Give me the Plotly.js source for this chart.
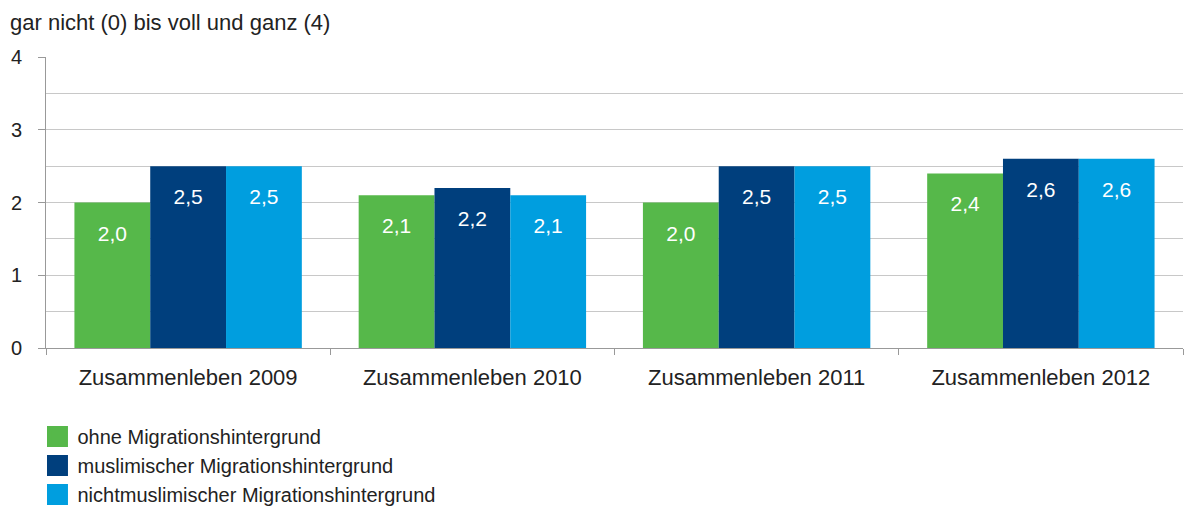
<!DOCTYPE html>
<html>
<head>
<meta charset="utf-8">
<script src="https://cdn.plot.ly/plotly-3.0.1.min.js"></script>
<style>html,body{margin:0;padding:0;background:#fff;}#chart{width:1185px;height:510px;}</style>
</head>
<body>
<div id="chart"></div>
<script>
var categories = ['Zusammenleben 2009', 'Zusammenleben 2010', 'Zusammenleben 2011', 'Zusammenleben 2012'];
var seriesNames = ['ohne Migrationshintergrund', 'muslimischer Migrationshintergrund', 'nichtmuslimischer Migrationshintergrund'];
var ohne = [2.0, 2.1, 2.0, 2.4];
var muslimisch = [2.5, 2.2, 2.5, 2.6];
var nichtmuslimisch = [2.5, 2.1, 2.5, 2.6];
var yTickVals = [0, 1, 2, 3, 4];
var yTitle = 'gar nicht (0) bis voll und ganz (4)';

var colors = ['#56B84A', '#003F7D', '#009EDF'];
var values = [ohne, muslimisch, nichtmuslimisch];
var FONT = 'Liberation Sans, Arial, sans-serif';
var TXT = '#222222';

function fmt(v) { return v.toFixed(1).replace('.', ','); }

var traces = [];
values.forEach(function (vals, i) {
  traces.push({
    type: 'bar', x: categories, y: vals, name: seriesNames[i],
    marker: { color: colors[i] }, showlegend: false, hoverinfo: 'skip',
    offsetgroup: 'g' + i
  });
});
values.forEach(function (vals, i) {
  traces.push({
    type: 'scatter', mode: 'markers+text', x: categories, y: vals,
    text: vals.map(fmt), textposition: 'bottom center',
    textfont: { family: FONT, size: 21, color: '#ffffff' },
    marker: { size: 34, color: 'rgba(0,0,0,0)' },
    showlegend: false, hoverinfo: 'skip', offsetgroup: 'g' + i
  });
});
values.forEach(function (vals, i) {
  traces.push({
    type: 'scatter', mode: 'markers', x: [null], y: [null], name: seriesNames[i],
    xaxis: 'x2', yaxis: 'y2',
    marker: { symbol: 'square', size: 16, color: colors[i], line: { width: 5, color: colors[i] } },
    showlegend: true, hoverinfo: 'skip'
  });
});

var layout = {
  width: 1185, height: 510,
  paper_bgcolor: '#ffffff', plot_bgcolor: '#ffffff',
  margin: { l: 46, r: 2, t: 57, b: 162 },
  font: { family: FONT, size: 20, color: TXT },
  barmode: 'group', bargap: 0.2, bargroupgap: 0,
  scattermode: 'group', scattergap: 0.2,
  title: {
    text: yTitle, font: { family: FONT, size: 22, color: TXT },
    xref: 'container', x: 10 / 1185, xanchor: 'left',
    yref: 'container', y: 1 - 22 / 510, yanchor: 'middle'
  },
  xaxis: {
    type: 'category', tickson: 'boundaries', ticks: 'outside', ticklen: 6,
    tickcolor: '#999999', tickwidth: 1,
    showline: true, linecolor: '#999999', linewidth: 1,
    showgrid: false, zeroline: false,
    tickfont: { family: FONT, size: 22, color: TXT },
    ticklabelstandoff: 10, fixedrange: true, automargin: false
  },
  yaxis: {
    range: [0, 4], tickvals: yTickVals, ticktext: yTickVals.map(String),
    ticks: 'outside', ticklen: 7, tickcolor: '#999999', tickwidth: 1,
    showline: true, linecolor: '#999999', linewidth: 1,
    showgrid: true, gridcolor: '#c8c8c8', gridwidth: 1, zeroline: false,
    minor: { dtick: 0.5, tick0: 0, showgrid: true, gridcolor: '#c8c8c8', gridwidth: 1, ticks: '' },
    tickfont: { family: FONT, size: 20, color: TXT },
    ticklabelstandoff: 12, fixedrange: true, automargin: false
  },
  xaxis2: { overlaying: 'x', visible: false, fixedrange: true },
  yaxis2: { overlaying: 'y', visible: false, fixedrange: true },
  showlegend: true,
  legend: {
    orientation: 'v', x: -0.0075, xanchor: 'left',
    yref: 'container', y: (510 - 417) / 510, yanchor: 'top',
    font: { family: FONT, size: 20, color: TXT },
    bgcolor: 'rgba(0,0,0,0)', traceorder: 'normal', itemclick: false, itemdoubleclick: false
  }
};

Plotly.newPlot('chart', traces, layout, { displayModeBar: false, staticPlot: true });
</script>
</body>
</html>
